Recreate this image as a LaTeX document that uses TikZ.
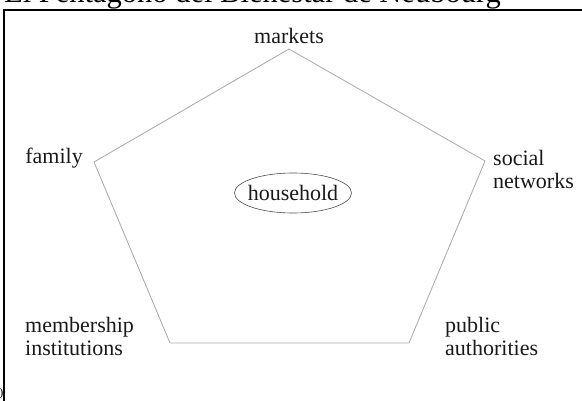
\documentclass[tikz,border=0pt]{standalone}
\usepackage{fontspec}
\setmainfont{Liberation Serif}
\usetikzlibrary{shapes.geometric}

\begin{document}
\begin{tikzpicture}[x=1pt,y=-1pt,
    corner/.style={inner sep=0pt,text=black!90,font=\fontsize{22}{23}\selectfont,align=left},
    edge/.style={gray!70,line width=0.8pt},
    frame/.style={black,line width=2pt}]
    \useasboundingbox (0,0) rectangle (582,401);

    % Title (cut off by the page)
    \node[anchor=base west,inner sep=0pt,font=\fontsize{30.5}{32}\selectfont] (title) at (4,2.5) {El Pentágono del Bienestar de Neubourg};
    \node[anchor=base east,inner sep=0pt,font=\fontsize{12}{12}\selectfont] (paren) at (3.5,396) {)};

    % Frame
    \coordinate (frb) at (4,405);
    \coordinate (fr) at (4,10);
    \coordinate (frr) at (590,10);
    \draw[frame] (frb) -- (fr) -- (frr);

    % Pentagon corners
    \coordinate (mk) at (289,49);
    \coordinate (sn) at (485,161);
    \coordinate (pa) at (409,343);
    \coordinate (mi) at (170,343);
    \coordinate (fa) at (94,162);
    \draw[edge] (mk) -- (sn) -- (pa) -- (mi) -- (fa) -- cycle;

    % Corner labels
    \node[corner,anchor=base] (markets) at (289,44) {markets};
    \node[corner,anchor=base east] (family) at (83,164) {family};
    \node[corner,anchor=north west] (social) at (493,150) {social\\networks};
    \node[corner,anchor=north west] (member) at (25,317) {membership\\institutions};
    \node[corner,anchor=north west] (public) at (445,317) {public\\authorities};

    % Centre
    \node[corner,draw=black!70,line width=0.6pt,ellipse,inner xsep=-4pt,minimum width=117pt,minimum height=40pt] (household) at (293,193) {household};
\end{tikzpicture}
\end{document}
